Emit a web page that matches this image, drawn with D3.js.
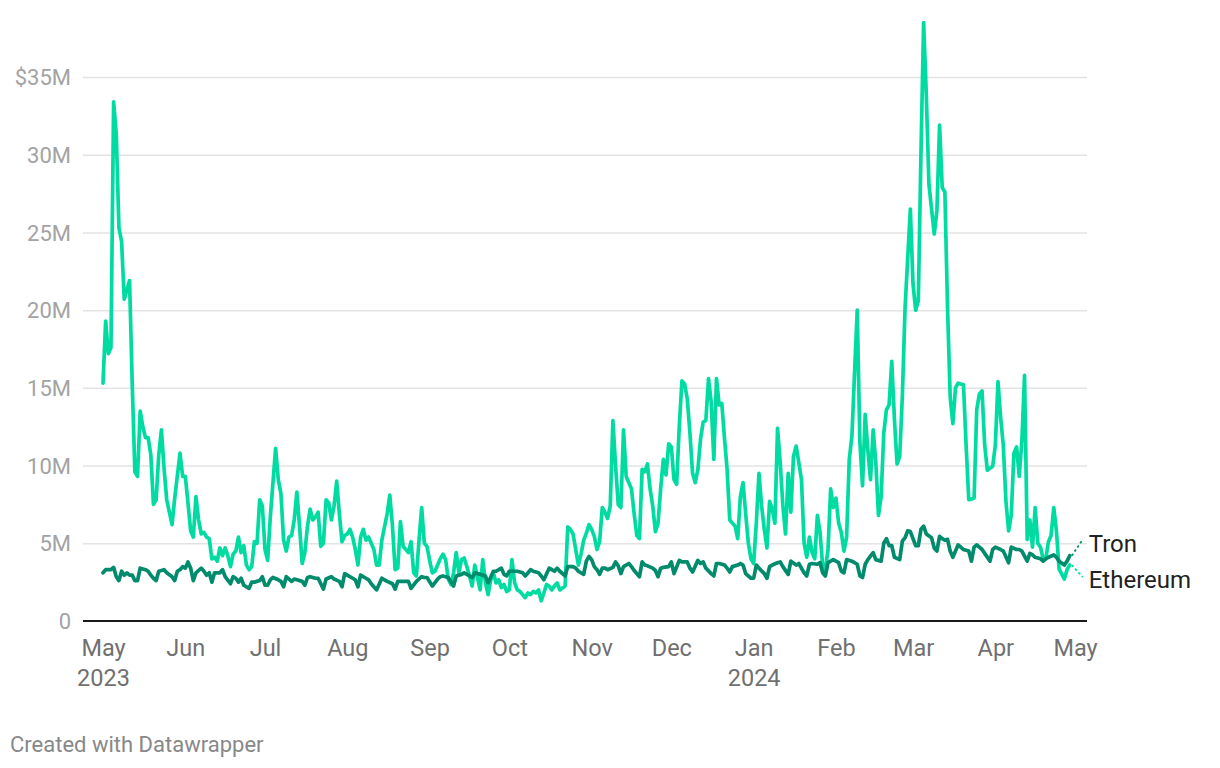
<!DOCTYPE html>
<html>
<head>
<meta charset="utf-8">
<script src="https://cdn.jsdelivr.net/npm/d3@7"></script>
<style>
  html, body { margin: 0; padding: 0; background: #ffffff; }
  svg { display: block; font-family: Roboto, "Noto Sans", sans-serif; }
</style>
</head>
<body>
<svg id="chart" width="1220" height="768"></svg>
<script>
// ---------- DATA ----------
const startDate = new Date(2023, 4, 1);           // day 0 = 1 May 2023
const endDate   = new Date(2024, 4, 1);

// [day offset from 1 May 2023, daily volume in $M]
const ethereum = [
[0,15.3],[1,19.3],[2,17.2],[3,17.6],[4,33.4],[5,31.3],[6,25.3],[7,24.4],[8,20.7],[9,21.3],[10,21.9],
[11,15.3],[12,9.6],[13,9.3],[14,13.5],[15,12.5],[16,11.8],[17,11.8],[18,10.7],[19,7.5],[20,7.8],
[21,10.7],[22,12.3],[23,9.8],[24,7.8],[26,6.2],[27,7.9],[29,10.8],[30,9.3],[31,9.3],[32,7.6],
[33,5.8],[34,5.4],[35,8.0],[36,6.5],[37,5.6],[38,5.7],[39,5.4],[40,5.3],[41,4.0],[42,4.1],[43,3.85],
[44,4.7],[45,4.2],[46,4.7],[47,4.2],[48,3.5],[49,4.3],[50,4.5],[51,5.4],[52,4.4],[53,4.85],[54,3.6],
[55,3.3],[56,3.5],[57,5.1],[58,5.0],[59,7.8],[60,7.4],[61,4.6],[62,3.9],[63,6.7],[65,11.1],[66,9.1],
[67,8.2],[68,5.2],[69,4.5],[70,5.4],[71,5.5],[72,6.5],[73,8.3],[74,6.1],[75,3.7],[76,4.4],[77,6.1],
[78,7.2],[79,6.5],[80,6.7],[81,7.0],[82,4.8],[83,5.0],[84,7.8],[85,7.6],[86,6.5],[87,7.4],[88,9.0],
[89,6.9],[90,5.1],[91,5.5],[92,5.6],[93,5.9],[94,5.4],[95,4.6],[96,3.6],[97,5.4],[98,5.9],[99,5.2],
[100,5.4],[102,4.6],[103,3.6],[104,3.6],[105,5.2],[107,6.9],[108,8.1],[109,6.1],[110,3.3],[111,3.4],
[112,6.4],[113,4.8],[115,4.4],[116,5.1],[117,3.1],[118,2.9],[119,5.2],[120,7.3],[121,5.0],[122,4.8],
[123,3.9],[124,3.1],[125,3.2],[126,3.6],[127,4.0],[128,4.3],[129,3.95],[130,2.7],[131,2.35],[132,3.1],
[133,4.4],[134,3.1],[135,3.95],[136,4.05],[137,3.5],[138,2.9],[139,2.25],[140,3.6],[142,2.0],[143,3.95],
[144,2.45],[145,1.7],[146,2.65],[147,3.1],[148,2.45],[149,2.65],[150,2.15],[151,2.35],[152,1.9],[153,2.0],
[154,3.95],[155,2.45],[156,2.0],[157,1.9],[158,1.7],[159,1.5],[160,1.8],[161,1.7],[162,1.9],[163,1.8],
[164,2.0],[165,1.3],[166,1.8],[167,2.35],[168,2.25],[169,2.0],[170,2.25],[171,2.45],[172,2.0],[174,2.25],
[175,6.05],[176,5.9],[177,5.6],[178,4.6],[179,3.6],[180,4.3],[181,5.2],[182,5.65],[183,6.2],[184,5.9],
[185,5.45],[186,4.6],[187,5.1],[188,7.3],[189,7.0],[190,6.6],[191,7.4],[192,12.9],[193,10.0],[194,7.5],
[195,7.3],[196,12.3],[197,9.3],[198,8.9],[199,8.5],[200,6.9],[201,5.5],[202,5.3],[203,9.75],[204,9.6],
[205,10.1],[206,8.5],[207,7.4],[208,5.75],[209,6.3],[210,8.55],[211,10.4],[212,9.4],[213,11.4],[214,11.2],
[215,9.1],[216,8.8],[217,12.55],[218,15.45],[219,15.25],[220,14.3],[221,12.1],[222,9.5],[223,8.9],[224,9.75],
[225,11.7],[226,12.8],[227,12.9],[228,15.6],[229,14.1],[230,10.4],[231,15.6],[232,13.9],[233,14.0],[234,11.8],
[235,9.75],[236,6.5],[237,6.3],[238,6.1],[239,5.3],[240,8.0],[241,8.9],[242,6.9],[243,5.0],[244,4.0],
[245,3.7],[246,6.3],[247,9.5],[248,7.4],[249,5.9],[250,4.7],[251,7.7],[252,7.2],[253,6.3],[254,12.4],
[255,10.2],[256,7.4],[257,5.6],[258,9.5],[259,7.0],[260,10.6],[261,11.25],[262,10.2],[263,9.1],[264,5.0],
[265,4.1],[266,5.4],[267,4.4],[268,4.0],[269,6.8],[270,5.7],[271,3.5],[272,3.3],[273,4.6],[274,8.5],
[275,7.3],[276,7.9],[277,6.3],[278,5.7],[279,4.5],[280,5.4],[281,10.4],[282,11.9],[283,16.0],[284,20.0],
[285,11.5],[286,8.7],[287,13.3],[288,11.0],[289,9.1],[290,12.3],[291,10.2],[292,6.8],[293,8.0],[294,12.1],
[295,13.6],[296,13.9],[297,16.7],[298,13.0],[299,10.1],[300,10.6],[301,14.5],[302,20.1],[304,26.5],[305,21.7],
[306,20.0],[307,20.6],[308,30.1],[309,38.5],[310,33.9],[311,28.1],[313,24.9],[314,26.4],[315,31.9],[316,27.9],
[317,27.6],[318,20.2],[319,14.4],[320,12.7],[321,15.0],[322,15.3],[324,15.2],[325,11.3],[326,7.8],[328,7.9],
[329,13.6],[330,14.6],[331,14.8],[332,11.3],[333,9.7],[335,9.95],[336,11.3],[337,15.4],[338,13.1],[339,11.3],
[340,7.7],[341,5.8],[342,6.8],[343,10.8],[344,11.2],[345,9.3],[346,11.6],[347,15.8],[348,5.25],[349,6.5],
[350,4.75],[351,7.3],[352,5.0],[353,4.75],[354,4.0],[355,4.0],[356,5.1],[357,5.5],[358,7.3],[359,5.8],
[360,3.35],[362,2.7],[363,3.3],[364,3.6]
];

const tron = [
[0,3.1],[1,3.3],[3,3.3],[4,3.45],[5,2.85],[6,2.6],[7,3.2],[8,2.95],[9,3.1],[10,2.95],[11,2.95],[12,2.6],
[13,2.6],[14,3.4],[16,3.3],[17,3.2],[18,2.95],[19,2.75],[20,2.6],[21,3.2],[23,3.3],[24,3.1],[26,2.85],
[27,2.6],[28,3.2],[29,3.3],[30,3.5],[31,3.4],[32,3.8],[33,3.4],[34,2.6],[35,3.1],[37,3.4],[38,3.2],
[39,2.95],[40,3.1],[41,2.5],[42,3.1],[44,3.1],[45,3.3],[46,2.85],[48,2.4],[49,2.85],[50,2.75],[51,2.5],
[52,2.75],[53,2.3],[55,2.1],[56,2.5],[57,2.5],[59,2.6],[60,2.85],[61,2.3],[62,2.3],[63,2.65],[64,2.8],
[66,2.65],[67,2.55],[68,2.2],[69,2.85],[71,2.55],[72,2.7],[73,2.65],[75,2.55],[76,2.3],[77,2.8],[78,2.85],
[80,2.75],[81,2.75],[83,2.05],[84,2.7],[86,2.85],[87,2.7],[89,2.55],[90,2.2],[91,3.05],[92,2.95],[94,2.75],
[95,2.65],[96,2.2],[97,2.95],[99,2.75],[100,2.65],[101,2.4],[103,2.0],[105,2.75],[106,2.65],[107,2.55],
[109,2.4],[110,2.05],[111,2.55],[113,2.55],[114,2.55],[115,2.55],[116,2.1],[118,2.55],[120,2.85],[121,2.8],
[122,2.8],[124,2.25],[126,2.7],[127,2.85],[128,2.9],[130,2.8],[132,2.25],[133,2.9],[135,3.0],[136,3.1],
[138,2.9],[139,2.8],[140,3.1],[142,3.0],[144,2.9],[145,2.45],[147,3.2],[148,3.2],[150,3.4],[151,3.0],
[152,2.9],[153,3.2],[155,3.2],[156,3.2],[158,3.1],[159,2.9],[161,3.3],[162,3.2],[164,3.1],[165,2.9],
[166,2.65],[168,3.4],[169,3.3],[170,3.2],[171,3.4],[172,3.2],[174,2.9],[175,3.5],[177,3.5],[178,3.4],
[179,3.2],[181,3.0],[182,3.85],[183,4.15],[184,3.95],[185,3.5],[186,3.3],[187,3.0],[188,3.4],[189,3.4],
[190,3.3],[192,3.45],[193,3.8],[194,3.55],[195,3.05],[196,3.5],[198,3.7],[199,3.5],[200,3.25],[202,2.85],
[203,3.8],[204,3.6],[205,3.55],[207,3.4],[208,3.25],[209,2.85],[210,3.4],[211,3.45],[213,3.5],[214,3.8],
[215,3.05],[217,3.9],[218,3.8],[220,3.8],[221,3.4],[222,3.15],[224,3.9],[225,3.7],[226,3.8],[227,3.4],
[229,3.05],[230,2.9],[231,3.7],[232,3.7],[234,3.6],[235,3.4],[236,3.15],[237,3.5],[239,3.6],[240,3.7],
[241,3.6],[242,3.05],[244,2.75],[245,2.75],[246,3.6],[247,3.4],[249,3.05],[250,2.75],[251,3.5],[252,3.6],
[254,3.75],[255,3.8],[256,3.5],[258,3.0],[259,3.85],[261,3.6],[262,3.7],[264,3.1],[265,2.9],[266,3.65],
[267,3.7],[269,3.65],[270,3.75],[271,3.1],[272,2.9],[273,3.75],[275,3.95],[277,3.75],[278,3.2],[279,3.1],
[280,3.95],[282,3.85],[284,3.65],[285,2.9],[286,2.8],[287,3.65],[288,3.95],[290,4.4],[291,3.95],[293,3.85],
[294,5.0],[295,5.3],[296,4.85],[297,4.85],[298,4.1],[300,3.95],[301,5.15],[302,5.35],[303,5.8],[304,5.75],
[306,4.85],[307,4.85],[308,5.9],[309,6.1],[310,5.6],[312,5.35],[313,4.7],[314,4.5],[315,5.45],[316,5.3],
[317,5.2],[318,5.25],[319,4.5],[320,4.1],[322,4.9],[323,4.75],[324,4.6],[326,4.5],[327,3.85],[328,4.75],
[329,4.9],[331,4.6],[332,4.35],[334,3.85],[335,4.6],[336,4.75],[338,4.6],[339,4.5],[341,3.75],[342,4.75],
[344,4.6],[345,4.6],[346,4.5],[348,3.85],[349,4.35],[350,4.25],[351,4.1],[353,4.0],[354,3.85],[355,4.0],
[356,4.1],[358,4.25],[359,4.1],[360,3.85],[362,3.6],[363,3.85],[364,4.2]
];

const seriesNames  = ["Ethereum", "Tron"];
const seriesColors = ["#00dba2", "#008b6c"];

const yTicks      = [0, 5, 10, 15, 20, 25, 30, 35];
const yTickLabels = ["0", "5M", "10M", "15M", "20M", "25M", "30M", "$35M"];
const monthTicks  = d3.timeMonth.range(startDate, d3.timeDay.offset(endDate, 1));
const yearTicks   = [new Date(2023, 4, 1), new Date(2024, 0, 1)];
const credit      = "Created with Datawrapper";

// ---------- LAYOUT ----------
const svg = d3.select("#chart");
const gridLeft = 83, gridRight = 1087;

const x = d3.scaleTime().domain([startDate, endDate]).range([103, 1075]);
const y = d3.scaleLinear().domain([0, 35]).range([621, 77]);

const toDate = d => d3.timeDay.offset(startDate, d);

// gridlines
const grid = svg.append("g")
  .attr("transform", `translate(${gridLeft},0)`)
  .call(d3.axisRight(y).tickValues(yTicks.filter(t => t > 0)).tickSize(gridRight - gridLeft).tickFormat(""));
grid.select(".domain").remove();
grid.selectAll("line").attr("stroke", "#e3e3e3").attr("stroke-width", 1.5);

// y labels
const yAxis = svg.append("g")
  .attr("transform", "translate(71,0)")
  .call(d3.axisLeft(y).tickValues(yTicks).tickSize(0).tickPadding(0)
        .tickFormat((d, i) => yTickLabels[i]));
yAxis.select(".domain").remove();
yAxis.selectAll("text")
  .attr("fill", "#a3a3a3").attr("font-size", 22)
  .attr("font-family", "Roboto, sans-serif").attr("dy", "0.35em");

// lines
const line = d3.line()
  .x(d => x(toDate(d[0])))
  .y(d => y(d[1]))
  .curve(d3.curveLinear);

const data = [ethereum, tron];
svg.append("g").selectAll("path")
  .data(data)
  .join("path")
  .attr("d", d => line(d))
  .attr("fill", "none")
  .attr("stroke", (d, i) => seriesColors[i])
  .attr("stroke-width", 3.7)
  .attr("stroke-linejoin", "round")
  .attr("stroke-linecap", "round");

// x axis labels
const xAxis = svg.append("g")
  .attr("transform", "translate(0,621)")
  .call(d3.axisBottom(x).tickValues(monthTicks).tickSize(0).tickPadding(0)
        .tickFormat(d3.timeFormat("%b")));
xAxis.select(".domain").remove();
xAxis.selectAll("text")
  .attr("fill", "#707070").attr("font-size", 23.5)
  .attr("font-family", "Roboto, sans-serif")
  .attr("y", 35).attr("dy", 0);

const yearAxis = svg.append("g")
  .attr("transform", "translate(0,621)")
  .call(d3.axisBottom(x).tickValues(yearTicks).tickSize(0).tickPadding(0)
        .tickFormat(d3.timeFormat("%Y")));
yearAxis.select(".domain").remove();
yearAxis.selectAll("text")
  .attr("fill", "#707070").attr("font-size", 23.5)
  .attr("font-family", "Roboto, sans-serif")
  .attr("y", 65).attr("dy", 0);

// baseline
svg.append("line")
  .attr("x1", gridLeft).attr("x2", gridRight)
  .attr("y1", y(0)).attr("y2", y(0))
  .attr("stroke", "#1a1a1a").attr("stroke-width", 2);

// direct labels with dashed connectors
const labelCfg = [
  { dy1: 12, dyText: 15 },     // Ethereum: below
  { dy1: -16, dyText: -12 }    // Tron: above
];
data.forEach((s, i) => {
  const last = s[s.length - 1];
  const x0 = x(toDate(last[0]));
  const y0 = y(last[1]);
  svg.append("line")
    .attr("x1", x0 + 2).attr("y1", y0)
    .attr("x2", x0 + 13).attr("y2", y0 + labelCfg[i].dy1)
    .attr("stroke", seriesColors[i]).attr("stroke-width", 1.8)
    .attr("stroke-dasharray", "2.5,2.5");
  svg.append("text")
    .attr("x", x0 + 19).attr("y", y0 + labelCfg[i].dyText)
    .attr("dy", "0.35em")
    .attr("font-size", 24).attr("fill", "#222")
    .attr("font-family", "Roboto, sans-serif")
    .text(seriesNames[i]);
});

// credit
svg.append("text")
  .attr("x", 10).attr("y", 752)
  .attr("font-size", 22).attr("fill", "#888888")
  .attr("font-family", "Roboto, sans-serif")
  .text(credit);
</script>
</body>
</html>
